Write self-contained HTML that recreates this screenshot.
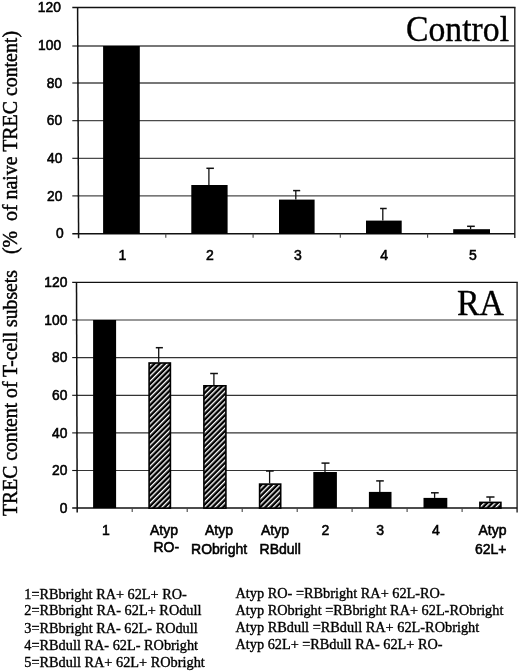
<!DOCTYPE html>
<html><head><meta charset="utf-8"><title>TREC content chart</title>
<style>html,body{margin:0;padding:0;background:#fff;width:520px;height:672px;overflow:hidden}svg{display:block;filter:grayscale(1)}text{fill:#000;stroke:#000;stroke-width:0.35px}.s{stroke-width:0.55px}.t{stroke-width:0.45px}</style>
</head><body>
<svg width="520" height="672" viewBox="0 0 520 672">
<defs><pattern id="h" patternUnits="userSpaceOnUse" width="3.75" height="20" patternTransform="rotate(45)"><rect width="3.75" height="20" fill="#000"/><rect x="0" width="1.35" height="20" fill="#fff"/></pattern></defs>
<rect width="520" height="672" fill="#fff"/>
<line x1="77.6" y1="46.0" x2="514.8" y2="46.0" stroke="#4a4a4a" stroke-width="1.3"/>
<line x1="72.3" y1="46.0" x2="78.6" y2="46.0" stroke="#111" stroke-width="1.1"/>
<line x1="77.6" y1="83.0" x2="514.8" y2="83.0" stroke="#4a4a4a" stroke-width="1.3"/>
<line x1="72.3" y1="83.0" x2="78.6" y2="83.0" stroke="#111" stroke-width="1.1"/>
<line x1="77.6" y1="120.7" x2="514.8" y2="120.7" stroke="#4a4a4a" stroke-width="1.3"/>
<line x1="72.3" y1="120.7" x2="78.6" y2="120.7" stroke="#111" stroke-width="1.1"/>
<line x1="77.6" y1="158.3" x2="514.8" y2="158.3" stroke="#4a4a4a" stroke-width="1.3"/>
<line x1="72.3" y1="158.3" x2="78.6" y2="158.3" stroke="#111" stroke-width="1.1"/>
<line x1="77.6" y1="195.9" x2="514.8" y2="195.9" stroke="#4a4a4a" stroke-width="1.3"/>
<line x1="72.3" y1="195.9" x2="78.6" y2="195.9" stroke="#111" stroke-width="1.1"/>
<line x1="72.3" y1="7.5" x2="515.5" y2="7.5" stroke="#111" stroke-width="1.4"/>
<line x1="514.8" y1="7.5" x2="514.8" y2="238.10000000000002" stroke="#222" stroke-width="1.4"/>
<line x1="72.3" y1="233.8" x2="514.8" y2="233.8" stroke="#111" stroke-width="1.5"/>
<line x1="77.6" y1="7.5" x2="78.6" y2="238.3" stroke="#111" stroke-width="1.5"/>
<line x1="165.8" y1="233.8" x2="165.8" y2="237.8" stroke="#444" stroke-width="1.1"/>
<line x1="253.1" y1="233.8" x2="253.1" y2="237.8" stroke="#444" stroke-width="1.1"/>
<line x1="340.3" y1="233.8" x2="340.3" y2="237.8" stroke="#444" stroke-width="1.1"/>
<line x1="427.6" y1="233.8" x2="427.6" y2="237.8" stroke="#444" stroke-width="1.1"/>
<line x1="76.5" y1="320.0" x2="517.1" y2="320.0" stroke="#333" stroke-width="1.2"/>
<line x1="72.2" y1="320.0" x2="77.5" y2="320.0" stroke="#111" stroke-width="1.1"/>
<line x1="76.5" y1="357.6" x2="517.1" y2="357.6" stroke="#333" stroke-width="1.2"/>
<line x1="72.2" y1="357.6" x2="77.5" y2="357.6" stroke="#111" stroke-width="1.1"/>
<line x1="76.5" y1="395.3" x2="517.1" y2="395.3" stroke="#333" stroke-width="1.2"/>
<line x1="72.2" y1="395.3" x2="77.5" y2="395.3" stroke="#111" stroke-width="1.1"/>
<line x1="76.5" y1="432.9" x2="517.1" y2="432.9" stroke="#333" stroke-width="1.2"/>
<line x1="72.2" y1="432.9" x2="77.5" y2="432.9" stroke="#111" stroke-width="1.1"/>
<line x1="76.5" y1="470.5" x2="517.1" y2="470.5" stroke="#333" stroke-width="1.2"/>
<line x1="72.2" y1="470.5" x2="77.5" y2="470.5" stroke="#111" stroke-width="1.1"/>
<line x1="72.2" y1="282.4" x2="517.8000000000001" y2="282.4" stroke="#111" stroke-width="1.4"/>
<line x1="517.1" y1="282.4" x2="517.1" y2="512.4" stroke="#222" stroke-width="1.4"/>
<line x1="72.2" y1="508.1" x2="517.1" y2="508.1" stroke="#111" stroke-width="1.5"/>
<line x1="76.5" y1="282.4" x2="77.2" y2="512.6" stroke="#111" stroke-width="1.5"/>
<line x1="132.2" y1="508.1" x2="132.2" y2="512.1" stroke="#444" stroke-width="1.1"/>
<line x1="187.2" y1="508.1" x2="187.2" y2="512.1" stroke="#444" stroke-width="1.1"/>
<line x1="242.2" y1="508.1" x2="242.2" y2="512.1" stroke="#444" stroke-width="1.1"/>
<line x1="297.2" y1="508.1" x2="297.2" y2="512.1" stroke="#444" stroke-width="1.1"/>
<line x1="352.1" y1="508.1" x2="352.1" y2="512.1" stroke="#444" stroke-width="1.1"/>
<line x1="407.1" y1="508.1" x2="407.1" y2="512.1" stroke="#444" stroke-width="1.1"/>
<line x1="462.1" y1="508.1" x2="462.1" y2="512.1" stroke="#444" stroke-width="1.1"/>
<rect x="103.1" y="46.0" width="36.7" height="187.8" fill="#000"/>
<line x1="208.9" y1="168.3" x2="208.9" y2="185.0" stroke="#111" stroke-width="1.3"/>
<line x1="206.4" y1="168.3" x2="213.9" y2="168.3" stroke="#111" stroke-width="1.5"/>
<rect x="191.3" y="185.0" width="36.3" height="48.8" fill="#000"/>
<line x1="295.8" y1="190.6" x2="295.8" y2="199.6" stroke="#111" stroke-width="1.3"/>
<line x1="293.1" y1="190.6" x2="300.2" y2="190.6" stroke="#111" stroke-width="1.5"/>
<rect x="279.0" y="199.6" width="35.6" height="34.2" fill="#000"/>
<line x1="382.8" y1="208.5" x2="382.8" y2="220.6" stroke="#111" stroke-width="1.3"/>
<line x1="380.1" y1="208.5" x2="386.7" y2="208.5" stroke="#111" stroke-width="1.5"/>
<rect x="366.0" y="220.6" width="35.7" height="13.2" fill="#000"/>
<line x1="470.6" y1="226.3" x2="470.6" y2="229.2" stroke="#111" stroke-width="1.3"/>
<line x1="467.1" y1="226.3" x2="474.8" y2="226.3" stroke="#111" stroke-width="1.5"/>
<rect x="453.2" y="229.2" width="36.8" height="4.6" fill="#000"/>
<rect x="93.1" y="320.0" width="23.0" height="188.1" fill="#000"/>
<line x1="158.7" y1="347.7" x2="158.7" y2="362.2" stroke="#111" stroke-width="1.3"/>
<line x1="155.8" y1="347.7" x2="162.9" y2="347.7" stroke="#111" stroke-width="1.5"/>
<rect x="149.10000000000002" y="363.0" width="21.3" height="145.1" fill="url(#h)" stroke="#000" stroke-width="1.6"/>
<line x1="213.9" y1="373.5" x2="213.9" y2="385.0" stroke="#111" stroke-width="1.3"/>
<line x1="210.2" y1="373.5" x2="217.9" y2="373.5" stroke="#111" stroke-width="1.5"/>
<rect x="203.9" y="385.8" width="22.0" height="122.3" fill="url(#h)" stroke="#000" stroke-width="1.6"/>
<line x1="269.6" y1="471.0" x2="269.6" y2="483.3" stroke="#111" stroke-width="1.3"/>
<line x1="266.0" y1="471.0" x2="273.7" y2="471.0" stroke="#111" stroke-width="1.5"/>
<rect x="259.6" y="484.1" width="21.1" height="24.0" fill="url(#h)" stroke="#000" stroke-width="1.6"/>
<line x1="325.0" y1="463.1" x2="325.0" y2="472.0" stroke="#111" stroke-width="1.3"/>
<line x1="321.5" y1="463.1" x2="329.5" y2="463.1" stroke="#111" stroke-width="1.5"/>
<rect x="313.3" y="472.0" width="23.6" height="36.1" fill="#000"/>
<line x1="379.8" y1="480.9" x2="379.8" y2="491.9" stroke="#111" stroke-width="1.3"/>
<line x1="376.2" y1="480.9" x2="383.8" y2="480.9" stroke="#111" stroke-width="1.5"/>
<rect x="368.9" y="491.9" width="22.6" height="16.2" fill="#000"/>
<line x1="434.6" y1="492.8" x2="434.6" y2="497.9" stroke="#111" stroke-width="1.3"/>
<line x1="431.0" y1="492.8" x2="438.7" y2="492.8" stroke="#111" stroke-width="1.5"/>
<rect x="423.5" y="497.9" width="23.8" height="10.2" fill="#000"/>
<line x1="489.9" y1="497.0" x2="489.9" y2="501.6" stroke="#111" stroke-width="1.3"/>
<line x1="486.3" y1="497.0" x2="494.5" y2="497.0" stroke="#111" stroke-width="1.5"/>
<rect x="479.90000000000003" y="502.40000000000003" width="21.0" height="5.7" fill="url(#h)" stroke="#000" stroke-width="1.6"/>
<text x="60.9" y="12.1" text-anchor="end"  class="s" style="font-family:&quot;Liberation Sans&quot;,sans-serif;font-size:13.8px">120</text>
<text x="61.1" y="49.8" text-anchor="end"  class="s" style="font-family:&quot;Liberation Sans&quot;,sans-serif;font-size:13.8px">100</text>
<text x="62.2" y="87.5" text-anchor="end"  class="s" style="font-family:&quot;Liberation Sans&quot;,sans-serif;font-size:13.8px">80</text>
<text x="62.2" y="125.3" text-anchor="end"  class="s" style="font-family:&quot;Liberation Sans&quot;,sans-serif;font-size:13.8px">60</text>
<text x="62.4" y="163.0" text-anchor="end"  class="s" style="font-family:&quot;Liberation Sans&quot;,sans-serif;font-size:13.8px">40</text>
<text x="62.4" y="200.7" text-anchor="end"  class="s" style="font-family:&quot;Liberation Sans&quot;,sans-serif;font-size:13.8px">20</text>
<text x="63.8" y="238.4" text-anchor="end"  class="s" style="font-family:&quot;Liberation Sans&quot;,sans-serif;font-size:13.8px">0</text>
<text x="67.4" y="287.0" text-anchor="end"  class="s" style="font-family:&quot;Liberation Sans&quot;,sans-serif;font-size:13.8px">120</text>
<text x="67.4" y="324.6" text-anchor="end"  class="s" style="font-family:&quot;Liberation Sans&quot;,sans-serif;font-size:13.8px">100</text>
<text x="67.4" y="362.2" text-anchor="end"  class="s" style="font-family:&quot;Liberation Sans&quot;,sans-serif;font-size:13.8px">80</text>
<text x="67.4" y="399.9" text-anchor="end"  class="s" style="font-family:&quot;Liberation Sans&quot;,sans-serif;font-size:13.8px">60</text>
<text x="67.4" y="437.5" text-anchor="end"  class="s" style="font-family:&quot;Liberation Sans&quot;,sans-serif;font-size:13.8px">40</text>
<text x="67.4" y="475.1" text-anchor="end"  class="s" style="font-family:&quot;Liberation Sans&quot;,sans-serif;font-size:13.8px">20</text>
<text x="67.4" y="512.7" text-anchor="end"  class="s" style="font-family:&quot;Liberation Sans&quot;,sans-serif;font-size:13.8px">0</text>
<text x="122.4" y="259.9" text-anchor="middle"  class="s" style="font-family:&quot;Liberation Sans&quot;,sans-serif;font-size:14px">1</text>
<text x="210.0" y="259.9" text-anchor="middle"  class="s" style="font-family:&quot;Liberation Sans&quot;,sans-serif;font-size:14px">2</text>
<text x="298.0" y="259.9" text-anchor="middle"  class="s" style="font-family:&quot;Liberation Sans&quot;,sans-serif;font-size:14px">3</text>
<text x="384.2" y="259.9" text-anchor="middle"  class="s" style="font-family:&quot;Liberation Sans&quot;,sans-serif;font-size:14px">4</text>
<text x="473.0" y="259.9" text-anchor="middle"  class="s" style="font-family:&quot;Liberation Sans&quot;,sans-serif;font-size:14px">5</text>
<text x="105.9" y="535.0" text-anchor="middle"  class="s" style="font-family:&quot;Liberation Sans&quot;,sans-serif;font-size:14px">1</text>
<text x="164.0" y="535.0" text-anchor="middle"  class="s" style="font-family:&quot;Liberation Sans&quot;,sans-serif;font-size:14px">Atyp</text>
<text x="166.3" y="552.1" text-anchor="middle"  class="s" style="font-family:&quot;Liberation Sans&quot;,sans-serif;font-size:14px">RO-</text>
<text x="219.0" y="535.0" text-anchor="middle"  class="s" style="font-family:&quot;Liberation Sans&quot;,sans-serif;font-size:14px">Atyp</text>
<text x="219.1" y="554.0" text-anchor="middle"  class="s" style="font-family:&quot;Liberation Sans&quot;,sans-serif;font-size:14px">RObright</text>
<text x="275.0" y="535.0" text-anchor="middle"  class="s" style="font-family:&quot;Liberation Sans&quot;,sans-serif;font-size:14px">Atyp</text>
<text x="280.2" y="554.0" text-anchor="middle"  class="s" style="font-family:&quot;Liberation Sans&quot;,sans-serif;font-size:14px">RBdull</text>
<text x="325.3" y="535.0" text-anchor="middle"  class="s" style="font-family:&quot;Liberation Sans&quot;,sans-serif;font-size:14px">2</text>
<text x="380.2" y="535.0" text-anchor="middle"  class="s" style="font-family:&quot;Liberation Sans&quot;,sans-serif;font-size:14px">3</text>
<text x="435.8" y="535.0" text-anchor="middle"  class="s" style="font-family:&quot;Liberation Sans&quot;,sans-serif;font-size:14px">4</text>
<text x="492.5" y="535.0" text-anchor="middle"  class="s" style="font-family:&quot;Liberation Sans&quot;,sans-serif;font-size:14px">Atyp</text>
<text x="490.8" y="553.8" text-anchor="middle"  class="s" style="font-family:&quot;Liberation Sans&quot;,sans-serif;font-size:14px">62L+</text>
<text x="406" y="41.2" style="font-family:&quot;Liberation Serif&quot;,serif;font-size:35px" textLength="103" lengthAdjust="spacingAndGlyphs">Control</text>
<text x="457" y="314.9" style="font-family:&quot;Liberation Serif&quot;,serif;font-size:35px" textLength="47" lengthAdjust="spacingAndGlyphs">RA</text>
<text class="t" transform="translate(17.3,254) rotate(-90)" style="font-family:&quot;Liberation Serif&quot;,serif;font-size:20px" textLength="223" lengthAdjust="spacingAndGlyphs">(%&#160; of naive TREC content)</text>
<text class="t" transform="translate(17.3,516) rotate(-90)" style="font-family:&quot;Liberation Serif&quot;,serif;font-size:20px" textLength="246" lengthAdjust="spacingAndGlyphs">TREC content of T-cell subsets</text>
<text x="24.3" y="598.5" style="font-family:&quot;Liberation Serif&quot;,serif;font-size:14px" textLength="162.4" lengthAdjust="spacingAndGlyphs">1=RBbright RA+ 62L+ RO-</text>
<text x="24.3" y="615.4" style="font-family:&quot;Liberation Serif&quot;,serif;font-size:14px" textLength="177.2" lengthAdjust="spacingAndGlyphs">2=RBbright RA- 62L+ ROdull</text>
<text x="24.3" y="632.6" style="font-family:&quot;Liberation Serif&quot;,serif;font-size:14px" textLength="173.4" lengthAdjust="spacingAndGlyphs">3=RBbright RA- 62L- ROdull</text>
<text x="24.3" y="650.0" style="font-family:&quot;Liberation Serif&quot;,serif;font-size:14px" textLength="173.8" lengthAdjust="spacingAndGlyphs">4=RBdull RA- 62L- RObright</text>
<text x="24.3" y="667.0" style="font-family:&quot;Liberation Serif&quot;,serif;font-size:14px" textLength="180.5" lengthAdjust="spacingAndGlyphs">5=RBdull RA+ 62L+ RObright</text>
<text x="235.5" y="597.9" style="font-family:&quot;Liberation Serif&quot;,serif;font-size:14px" textLength="209.2" lengthAdjust="spacingAndGlyphs">Atyp RO- =RBbright RA+ 62L-RO-</text>
<text x="235.5" y="615.0" style="font-family:&quot;Liberation Serif&quot;,serif;font-size:14px" textLength="267.9" lengthAdjust="spacingAndGlyphs">Atyp RObright =RBbright RA+ 62L-RObright</text>
<text x="235.5" y="632.2" style="font-family:&quot;Liberation Serif&quot;,serif;font-size:14px" textLength="243.7" lengthAdjust="spacingAndGlyphs">Atyp RBdull =RBdull RA+ 62L-RObright</text>
<text x="235.5" y="649.1" style="font-family:&quot;Liberation Serif&quot;,serif;font-size:14px" textLength="207.0" lengthAdjust="spacingAndGlyphs">Atyp 62L+ =RBdull RA- 62L+ RO-</text>
</svg>
</body></html>
